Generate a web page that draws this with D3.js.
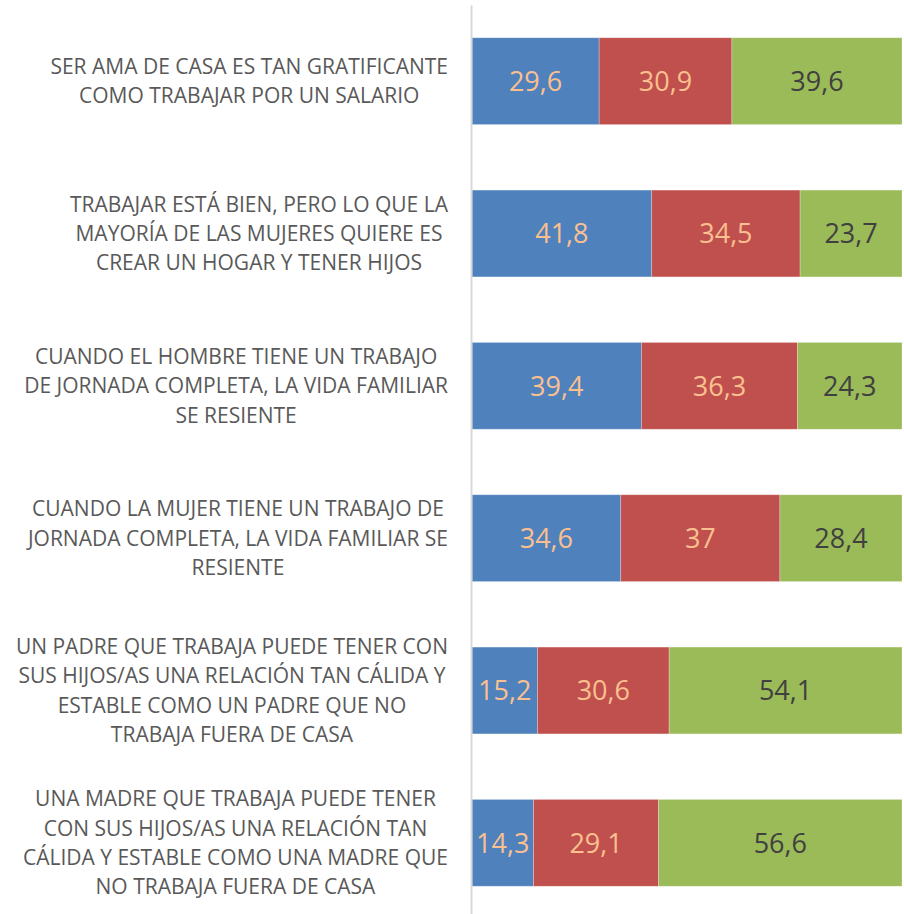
<!DOCTYPE html>
<html>
<head>
<meta charset="utf-8">
<script src="https://cdn.jsdelivr.net/npm/d3@7"></script>
<style>
  html, body { margin: 0; padding: 0; background: #fff; }
</style>
</head>
<body>
<svg id="chart" width="904" height="914"></svg>
<script>
const categories = [
  ['SER AMA DE CASA ES TAN GRATIFICANTE', 'COMO TRABAJAR POR UN SALARIO'],
  ['TRABAJAR ESTÁ BIEN, PERO LO QUE LA', 'MAYORÍA DE LAS MUJERES QUIERE ES', 'CREAR UN HOGAR Y TENER HIJOS'],
  ['CUANDO EL HOMBRE TIENE UN TRABAJO', 'DE JORNADA COMPLETA, LA VIDA FAMILIAR', 'SE RESIENTE'],
  ['CUANDO LA MUJER TIENE UN TRABAJO DE', 'JORNADA COMPLETA, LA VIDA FAMILIAR SE', 'RESIENTE'],
  ['UN PADRE QUE TRABAJA PUEDE TENER CON', 'SUS HIJOS/AS UNA RELACIÓN TAN CÁLIDA Y', 'ESTABLE COMO UN PADRE QUE NO', 'TRABAJA FUERA DE CASA'],
  ['UNA MADRE QUE TRABAJA PUEDE TENER', 'CON SUS HIJOS/AS UNA RELACIÓN TAN', 'CÁLIDA Y ESTABLE COMO UNA MADRE QUE', 'NO TRABAJA FUERA DE CASA']
];
const serieA = [29.6, 41.8, 39.4, 34.6, 15.2, 14.3];
const serieB = [30.9, 34.5, 36.3, 37, 30.6, 29.1];
const serieC = [39.6, 23.7, 24.3, 28.4, 54.1, 56.6];
const seriesKeys = ['a', 'b', 'c'];

const colors = { a: '#4f81bd', b: '#c0504d', c: '#9bbb59' };
const labelColors = { a: '#fac090', b: '#fac090', c: '#404040' };

const width = 904, height = 914;
const plot = { left: 472, right: 902, top: 5, bottom: 919 };

const rows = categories.map((c, i) => {
  const total = serieA[i] + serieB[i] + serieC[i];
  return { idx: i, a: serieA[i] / total, b: serieB[i] / total, c: serieC[i] / total,
           raw: { a: serieA[i], b: serieB[i], c: serieC[i] } };
});

const stacked = d3.stack().keys(seriesKeys)(rows);

const x = d3.scaleLinear().domain([0, 1]).range([plot.left, plot.right]);
const y = d3.scaleBand()
  .domain(d3.range(categories.length))
  .range([plot.top, plot.bottom])
  .paddingInner(0.43)
  .paddingOuter(0.215);

const svg = d3.select('#chart');

const fmt = v => String(v).replace('.', ',');

const layers = svg.selectAll('g.layer')
  .data(stacked)
  .join('g')
  .attr('class', 'layer')
  .attr('fill', d => colors[d.key]);

layers.selectAll('rect')
  .data(d => d)
  .join('rect')
  .attr('x', d => x(d[0]))
  .attr('y', d => y(d.data.idx))
  .attr('width', d => x(d[1]) - x(d[0]))
  .attr('height', y.bandwidth())
  .attr('stroke', '#ffffff')
  .attr('stroke-opacity', 0.35)
  .attr('stroke-width', 0.75);

layers.selectAll('text')
  .data(d => d.map(p => ({ p, key: d.key })))
  .join('text')
  .attr('x', d => (x(d.p[0]) + x(d.p[1])) / 2)
  .attr('y', d => y(d.p.data.idx) + y.bandwidth() / 2)
  .attr('dy', '0.36em')
  .attr('text-anchor', 'middle')
  .attr('font-family', '"Open Sans", sans-serif')
  .attr('font-size', 27)
  .attr('fill', d => labelColors[d.key])
  .text(d => fmt(d.p.data.raw[d.key]));

// category axis line
const axisG = svg.append('g')
  .attr('transform', `translate(${plot.left - 1},0)`)
  .call(d3.axisLeft(y).tickSize(0).tickFormat(''));
axisG.select('.domain').attr('stroke', '#d9d9d9').attr('stroke-width', 2);

// category labels: lines centred within a block whose right edge sits at labelRight
const lineH = 29.3;
const labelRight = 448;
const labelG = svg.append('g')
  .attr('font-family', '"Open Sans", sans-serif')
  .attr('font-size', 21)
  .attr('fill', '#595959')
  .attr('text-anchor', 'middle');

const blocks = labelG.selectAll('text')
  .data(categories)
  .join('text');

blocks.selectAll('tspan')
  .data(d => d)
  .join('tspan')
  .attr('x', 0)
  .attr('y', (d, j) => j * lineH)
  .attr('dy', '0.36em')
  .text(d => d);

blocks.each(function (d, i) {
  const maxW = d3.max(d3.select(this).selectAll('tspan').nodes(), n => n.getComputedTextLength());
  const cx = labelRight - maxW / 2;
  const cy = y(i) + y.bandwidth() / 2 - (d.length - 1) * lineH / 2;
  d3.select(this).attr('transform', `translate(${cx},${cy})`);
});
</script>
</body>
</html>
